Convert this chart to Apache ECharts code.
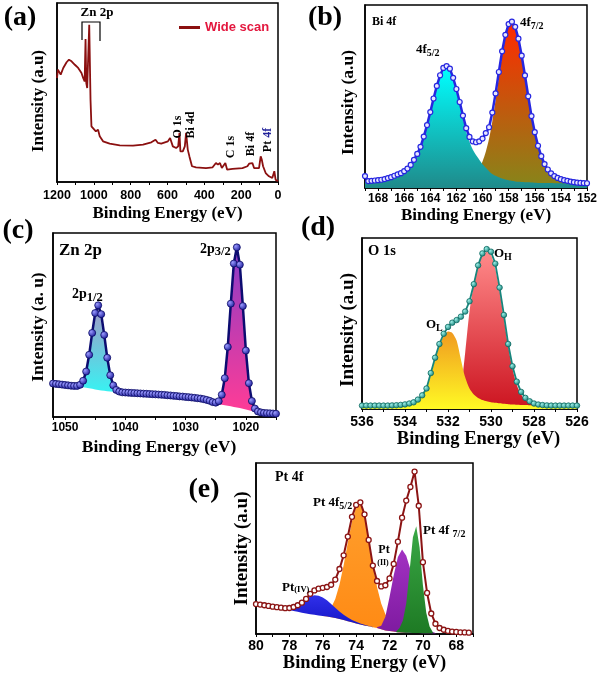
<!DOCTYPE html>
<html><head><meta charset="utf-8">
<script src="https://cdn.jsdelivr.net/npm/echarts@6/dist/echarts.min.js"></script>
<style>html,body{margin:0;padding:0;background:#fff}#c{width:600px;height:675px}</style>
</head><body><div id="c"></div>
<script>
// ---------- (a) wide scan ----------
const wideEnergy = [1200,1195,1187,1180,1166,1148,1135,1121,1103,1085,1067,1058,1050,1045,1041,1036,1031,1025,1018,1013,1004,989,977,968,950,914,859,787,733,688,665,652,634,598,586,571,553,542,535,530,517,506,499,490,481,472,467,445,391,355,337,326,315,305,286,276,247,193,166,157,148,139,130,103,94,88,81,72,67,49,31,20,13,0];
const wideIntensity = [58.1,62.8,63.1,60.0,63.7,66.9,68.3,67.4,65.5,63.7,60.9,58.1,56.2,79.9,55.3,52.5,51.6,87.9,46.0,31.1,30.2,28.3,29.2,25.5,22.7,21.4,20.5,20.3,20.9,22.2,23.6,21.8,21.4,22.7,24.6,19.9,19.0,19.9,27.4,17.1,17.1,19.9,27.4,18.1,14.3,13.4,8.8,8.2,7.8,8.2,10.6,9.7,10.6,7.8,10.6,6.9,7.3,7.8,8.8,10.2,9.1,10.6,7.8,7.8,14.3,12.5,8.8,9.1,5.0,3.2,2.2,6.0,1.3,0.4];

// ---------- (b) Bi 4f ----------
const biEnergy = [169,168.75,168.5,168.25,168,167.75,167.5,167.25,167,166.75,166.5,166.25,166,165.75,165.5,165.25,165,164.75,164.5,164.25,164,163.75,163.5,163.25,163,162.75,162.5,162.25,162,161.75,161.5,161.25,161,160.75,160.5,160.25,160,159.75,159.5,159.25,159,158.75,158.5,158.25,158,157.75,157.5,157.25,157,156.75,156.5,156.25,156,155.75,155.5,155.25,155,154.75,154.5,154.25,154,153.75,153.5,153.25,153,152.75,152.5,152.25,152];
const biEnvelope = [6.5,3.8,3.9,4.1,4.3,4.5,4.9,5.4,5.9,6.7,7.4,8.1,9.2,10.6,12.6,15.4,18.6,22.5,28.1,34.4,41.5,48.9,55.8,61.6,65.6,66.6,65.2,60.2,54.1,47.0,39.6,32.7,27.9,25.5,25.0,25.5,27.0,30.0,33.2,41.2,51.7,63.4,74.7,83.7,89.6,90.9,88.1,81.6,72.3,61.5,50.1,39.3,30.5,23.1,17.4,13.1,10.1,8.0,6.5,5.5,4.8,4.3,3.9,3.5,3.2,2.9,2.8,2.7,2.6];
const bi4f52 = [3.6,3.7,3.8,4.0,4.2,4.4,4.8,5.3,5.8,6.5,7.2,7.9,9.0,10.4,12.3,15.1,18.3,22.2,27.7,34.0,41.1,48.4,55.3,61.0,65.0,65.9,64.4,59.3,53.1,45.8,38.1,30.7,25.3,21.0,18.0,15.5,13.0,11.0,9.2,7.7,6.7,5.9,5.2,4.7,4.3,3.9,3.6,3.4,3.3,3.2,3.1,3.0,2.9,2.8,2.8,2.8,2.8,2.7,2.6,2.6,2.6,2.6,2.6,2.6,2.6,2.5,2.5,2.5,2.5];
const bi4f72 = [3.6,3.6,3.6,3.6,3.5,3.5,3.5,3.5,3.5,3.6,3.6,3.5,3.5,3.5,3.6,3.6,3.6,3.5,3.6,3.6,3.6,3.7,3.7,3.8,3.7,3.8,3.9,4.0,4.1,4.3,4.6,5.0,5.6,6.6,8.2,10.8,14.5,19.8,26.9,36.4,47.9,60.4,72.4,81.9,88.2,89.8,87.3,81.0,71.8,61.1,49.8,39.0,30.3,23.0,17.3,13.0,10.0,8.0,6.5,5.5,4.8,4.3,3.9,3.5,3.2,2.9,2.8,2.7,2.6];

// ---------- (c) Zn 2p ----------
const znEnergy = [1052,1051.5,1051,1050.5,1050,1049.5,1049,1048.5,1048,1047.5,1047,1046.5,1046,1045.5,1045,1044.5,1044,1043.5,1043,1042.5,1042,1041.5,1041,1040.5,1040,1039.5,1039,1038.5,1038,1037.5,1037,1036.5,1036,1035.5,1035,1034.5,1034,1033.5,1033,1032.5,1032,1031.5,1031,1030.5,1030,1029.5,1029,1028.5,1028,1027.5,1027,1026.5,1026,1025.5,1025,1024.5,1024,1023.5,1023,1022.5,1022,1021.5,1021,1020.5,1020,1019.5,1019,1018.5,1018,1017.5,1017,1016.5,1016,1015.5,1015];
const znEnvelope = [18.2,18.0,17.8,17.6,17.4,17.2,17.0,16.9,16.9,17.5,19.7,24.7,33.8,45.7,56.5,60.7,55.9,44.6,32.2,22.7,17.2,14.7,13.8,13.4,13.3,13.2,13.1,13.0,12.9,12.8,12.7,12.6,12.5,12.4,12.3,12.2,12.1,12.0,11.8,11.7,11.5,11.4,11.2,11.1,10.9,10.8,10.6,10.4,10.2,10.0,9.7,9.3,8.8,8.1,7.8,8.6,12.1,21.1,38.1,61.6,83.4,92.2,82.8,60.3,36.1,18.4,8.7,4.6,3.0,2.5,2.2,2.1,2.0,1.9,1.8];
const zn2p12Energy = [1048,1047.5,1047,1046.5,1046,1045.5,1045,1044.5,1044,1043.5,1043,1042.5,1042,1041.5,1041];
const zn2p12Base = [16.6,16.4,16.2,15.9,15.6,15.3,15.0,14.7,14.4,14.2,14.0,13.9,13.7,13.6,13.5];
const zn2p12Top = [16.9,17.5,19.7,24.7,33.8,45.7,56.5,60.7,55.9,44.6,32.2,22.7,17.2,14.7,13.8];
const zn2p32Energy = [1025.5,1025,1024.5,1024,1023.5,1023,1022.5,1022,1021.5,1021,1020.5,1020,1019.5,1019,1018.5,1018,1017.5];
const zn2p32Base = [8.0,7.4,7.0,6.7,6.4,6.1,5.8,5.5,5.2,4.9,4.5,4.1,3.7,3.3,2.95,2.6,2.4];
const zn2p32Top = [8.1,7.8,8.6,12.1,21.1,38.1,61.6,83.4,92.2,82.8,60.3,36.1,18.4,8.7,4.55,3.0,2.5];

// ---------- (d) O 1s ----------
const oEnergy = [536,535.8,535.6,535.4,535.2,535,534.8,534.6,534.4,534.2,534,533.8,533.6,533.4,533.2,533,532.8,532.6,532.4,532.2,532,531.8,531.6,531.4,531.2,531,530.8,530.6,530.4,530.2,530,529.8,529.6,529.4,529.2,529,528.8,528.6,528.4,528.2,528,527.8,527.6,527.4,527.2,527,526.8,526.6,526.4,526.2,526];
const oEnvelope = [2.0,2.0,2.0,2.0,2.0,2.0,2.0,2.1,2.2,2.4,2.7,3.2,3.9,5.5,8.0,12.0,21.0,30.0,38.0,44.0,48.0,50.5,52.0,54.0,57.0,63.0,73.0,84.0,91.0,93.5,92.0,85.0,71.0,55.0,38.0,25.0,16.0,10.0,6.5,4.5,3.2,2.6,2.3,2.1,2.0,2.0,2.0,2.0,2.0,2.0,2.0];
const oLattice = [2.0,2.0,2.0,2.0,2.0,2.0,2.0,2.0,2.0,2.0,2.3,2.9,3.8,5.5,8.0,12.0,20.0,29.0,37.0,42.5,45.3,44.5,40.0,29.0,18.5,12.0,8.5,6.5,5.3,4.5,4.0,3.6,3.3,3.0,2.8,2.6,2.5,2.4,2.3,2.2,2.1,2.1,2.0,2.0,2.0,2.0,2.0,2.0,2.0,2.0,2.0];
const oHydroxyl = [2.0,2.0,2.0,2.0,2.0,2.0,2.0,2.0,2.0,2.0,2.0,2.0,2.0,2.0,2.0,2.0,2.0,2.0,2.0,2.0,2.2,3.0,5.0,12.0,33.0,57.0,73.0,84.0,90.0,92.0,90.0,82.0,69.0,53.0,36.5,23.5,14.0,8.5,5.2,3.5,2.6,2.2,2.0,2.0,2.0,2.0,2.0,2.0,2.0,2.0,2.0];

// ---------- (e) Pt 4f ----------
const ptEnergy = [80,79.75,79.5,79.25,79,78.75,78.5,78.25,78,77.75,77.5,77.25,77,76.75,76.5,76.25,76,75.75,75.5,75.25,75,74.75,74.5,74.25,74,73.75,73.5,73.25,73,72.75,72.5,72.25,72,71.75,71.5,71.25,71,70.75,70.5,70.25,70,69.75,69.5,69.25,69,68.75,68.5,68.25,68,67.75,67.5,67.25];
const ptEnvelope = [17.5,17.2,16.8,16.4,16.0,15.7,15.4,15.1,15.2,15.8,16.8,18.3,20.5,23.5,25.5,26.5,27.0,27.5,28.8,31.8,38.0,46.0,57.0,68.5,75.5,77.0,70.0,55.0,40.0,31.0,27.8,28.5,32.5,41.0,54.0,68.0,78.0,86.0,95.0,75.0,42.0,24.0,12.0,6.0,3.5,2.5,1.8,1.4,1.2,1.0,0.9,0.8];
const ptIVEnergy = [78.25,78,77.75,77.5,77.25,77,76.75,76.5,76.25,76,75.75,75.5,75.25,75,74.75,74.5,74.25,74,73.75,73.5,73.25,73];
const ptIVBase = [14.6,14.0,13.5,13.0,12.5,12.0,11.6,11.2,10.8,10.5,10.2,9.8,9.4,8.8,8.2,7.5,6.8,6.2,5.6,5.0,4.5,4.0];
const ptIVTop = [14.9,15.0,15.7,17.0,18.8,20.5,21.9,22.6,22.3,21.3,19.7,17.6,15.4,13.2,11.3,9.6,8.2,7.1,6.2,5.4,4.7,4.1];
const pt52Energy = [76,75.75,75.5,75.25,75,74.75,74.5,74.25,74,73.75,73.5,73.25,73,72.75,72.5,72.25,72,71.75,71.5,71.25,71];
const pt52Base = [10.5,10.2,9.8,9.4,8.8,8.2,7.5,6.8,6.2,5.6,5.0,4.5,4.0,3.5,2.8,2.1,1.7,1.4,1.0,0.9,0.8];
const pt52Top = [11.5,12.7,15.3,20.4,28.8,40.2,53.5,65.8,74.2,75.6,70.0,54.5,40.0,27.5,17.8,11.6,7.2,4.4,2.5,1.6,1.1];
const ptIIEnergy = [72.75,72.5,72.25,72,71.75,71.5,71.25,71,70.75,70.5,70.25,70,69.75,69.5,69.25];
const ptIIBase = [3.5,2.8,2.1,1.7,1.4,1.0,0.9,0.8,0.7,0.6,0.55,0.5,0.45,0.4,0.35];
const ptIITop = [4.0,4.8,10.1,21.7,34.4,45.0,49.4,45.8,37.7,26.6,15.55,7.5,3.45,1.4,0.65];
const pt72Energy = [71.6,71.4,71.2,71,70.8,70.6,70.4,70.2,70,69.8,69.6,69.4];
const pt72Base = [1.0,1.0,0.9,0.8,0.7,0.65,0.6,0.55,0.5,0.45,0.4,0.38];
const pt72Top = [1.5,3.5,7.9,17.8,36.7,56.65,63.0,50.55,28.5,12.45,4.4,0.88];

// ---------- helpers ----------
const SERIF = '"Liberation Serif", "Times New Roman", serif';
const SANS = '"Liberation Sans", Arial, sans-serif';
const pairs = (xs, ys) => xs.map((x, i) => [x, ys[i]]);
const grad = (top, bottom) => ({type:'linear', x:0, y:0, x2:0, y2:1, colorStops:[{offset:0, color:top},{offset:1, color:bottom}]});
const radial = (inner, outer) => ({type:'radial', x:0.35, y:0.35, r:0.7, colorStops:[{offset:0, color:inner},{offset:1, color:outer}]});

function xAx(gi, min, max, interval, step, fs, margin, nameGap, nameFs, namePad) {
  return {gridIndex: gi, type:'value', min, max, interval, inverse:true,
    axisLine:{show:true, onZero:false, lineStyle:{color:'#000', width:1.5}},
    axisTick:{show:true, inside:false, length:3, lineStyle:{color:'#000', width:1}},
    splitLine:{show:false},
    axisLabel:{show:true, interval:0, margin, fontFamily:SANS, fontWeight:'bold', fontSize:fs, color:'#000',
      formatter: v => (Math.abs(Math.round(v) % step) < 1e-6 && Math.abs(v - Math.round(v)) < 1e-6 ? String(Math.round(v)) : '')},
    name:'Binding Energy (eV)', nameLocation:'middle', nameGap,
    nameTextStyle:{fontFamily:SERIF, fontWeight:'bold', fontSize:nameFs, color:'#000', padding: namePad || [0,0,0,0]}};
}
function yAx(gi, name, nameGap, nameFs, pad) {
  return {gridIndex: gi, type:'value', min:0, max:100,
    axisLine:{show:true, onZero:false, lineStyle:{color:'#000', width:1.5}},
    axisTick:{show:false}, axisLabel:{show:false}, splitLine:{show:false},
    name, nameLocation:'middle', nameGap,
    nameTextStyle:{fontFamily:SERIF, fontWeight:'bold', fontSize:nameFs, color:'#000', padding: pad || [0,0,0,0]}};
}
function fill(gi, xs, ys, top, bottom, opacity) {
  return {type:'line', xAxisIndex:gi, yAxisIndex:gi, data:pairs(xs, ys), symbol:'none', smooth:0.25, silent:true,
    lineStyle:{width:0, opacity:0}, areaStyle:{color:grad(top, bottom), opacity: opacity == null ? 1 : opacity}};
}
// filled band between a read baseline and a read component curve, mapped through the axes
function band(gi, xs, lower, upper, top, bottom) {
  return {type:'custom', xAxisIndex:gi, yAxisIndex:gi, silent:true, clip:true,
    data:[[xs[0], upper[0]]],
    renderItem:(params, api) => {
      const pts = [];
      for (let i = 0; i < xs.length; i++) pts.push(api.coord([xs[i], upper[i]]));
      for (let i = xs.length - 1; i >= 0; i--) pts.push(api.coord([xs[i], lower[i]]));
      return {type:'polygon', shape:{points:pts},
        style:{fill:new echarts.graphic.LinearGradient(0, 0, 0, 1, [{offset:0, color:top},{offset:1, color:bottom}]), stroke:null}};
    }};
}
function env(gi, xs, ys, lineColor, lw, symSize, symColor, symBorder, bw) {
  return {type:'line', xAxisIndex:gi, yAxisIndex:gi, data:pairs(xs, ys), symbol:'circle', symbolSize:symSize, silent:true,
    lineStyle:{color:lineColor, width:lw}, itemStyle:{color:symColor, borderColor:symBorder, borderWidth:bw}};
}
function T(x, y, text, fs, extra, rot) {
  return {type:'text', x, y, z:100, rotation: rot || 0, silent:true,
    style:Object.assign({text, fontFamily:SERIF, fontWeight:'bold', fontSize:fs, fill:'#000', align:'left', verticalAlign:'middle'}, extra || {})};
}
function TS(x, y, main, sub, fs, sfs, drop) {
  return {type:'text', x, y, z:100, silent:true,
    style:{text:'{m|' + main + '}{s|' + sub + '}', align:'left', verticalAlign:'middle',
      rich:{m:{fontFamily:SERIF, fontWeight:'bold', fontSize:fs, fill:'#000', verticalAlign:'top'},
            s:{fontFamily:SERIF, fontWeight:'bold', fontSize:sfs, fill:'#000', verticalAlign:'top', padding:[drop,0,0,0]}}}};
}

const gridBase = {show:true, borderColor:'#000', borderWidth:1.5, backgroundColor:'transparent'};

const option = {
  animation:false,
  backgroundColor:'#fff',
  grid:[
    Object.assign({left:57, top:3, width:221, height:179}, gridBase),
    Object.assign({left:365, top:5, width:223, height:183}, gridBase),
    Object.assign({left:53, top:233, width:223, height:184}, gridBase),
    Object.assign({left:362, top:238, width:215, height:171}, gridBase),
    Object.assign({left:256, top:463, width:217, height:171}, gridBase)
  ],
  xAxis:[
    xAx(0, 0, 1200, 100, 200, 12.5, 7, 23, 17),
    xAx(1, 152, 169, 1, 2, 12, 5, 19, 17),
    xAx(2, 1015, 1052, 5, 10, 12, 5, 21, 17.5, [0,11,0,0]),
    xAx(3, 526, 536, 1, 2, 14, 6, 18, 18.5, [0,0,0,18]),
    xAx(4, 67, 80, 1, 2, 14, 5, 19, 18.5)
  ],
  yAxis:[
    yAx(0, 'Intensity (a.u)', 10, 17, [0,17,0,0]),
    yAx(1, 'Intensity (a.u)', 8, 17.5, [0,12,0,0]),
    yAx(2, 'Intensity (a. u)', 6, 17.5, [0,4,0,0]),
    yAx(3, 'Intensity (a.u)', 4.5, 19, [0,13,0,0]),
    yAx(4, 'Intensity (a.u)', 4.5, 19)
  ],
  legend:{data:['Wide scan'], left:174, top:16, icon:'rect', itemWidth:21, itemHeight:3, itemGap:4,
    textStyle:{color:'#e3173e', fontFamily:SANS, fontWeight:'bold', fontSize:13}},
  series:[
    // (a)
    {name:'Wide scan', type:'line', xAxisIndex:0, yAxisIndex:0, data:pairs(wideEnergy, wideIntensity), symbol:'none', silent:true,
      lineStyle:{color:'#8b1010', width:1.8}, itemStyle:{color:'#8b1010'}},
    // (b)
    fill(1, biEnergy, bi4f72, '#ff2a00', '#86861a'),
    fill(1, biEnergy, bi4f52, '#00ffff', '#1f8a8a'),
    env(1, biEnergy, biEnvelope, '#2626e0', 2.5, 5, '#e6e6ff', '#2626e0', 1.2),
    // (c)
    band(2, zn2p12Energy, zn2p12Base, zn2p12Top, '#a598c6', '#38f2f2'),
    band(2, zn2p32Energy, zn2p32Base, zn2p32Top, '#8a3cc8', '#ff3c96'),
    env(2, znEnergy, znEnvelope, '#0c0c70', 2.5, 7, radial('#9a9aff', '#1a1a98'), '#0c0c66', 0.8),
    // (d)
    fill(3, oEnergy, oHydroxyl, '#ff8a8a', '#cc1420'),
    fill(3, oEnergy, oLattice, '#f09a20', '#fffa24'),
    env(3, oEnergy, oEnvelope, '#17857c', 1.8, 5.5, radial('#9ef0e8', '#148078'), '#0f6a62', 0.8),
    // (e)
    band(4, pt52Energy, pt52Base, pt52Top, '#ff9e2c', '#ff8a14'),
    band(4, ptIVEnergy, ptIVBase, ptIVTop, '#3030ea', '#1414c4'),
    band(4, ptIIEnergy, ptIIBase, ptIITop, '#a232c2', '#7e1aa0'),
    band(4, pt72Energy, pt72Base, pt72Top, '#3aa846', '#1e7a24'),
    env(4, ptEnergy, ptEnvelope, '#8b1414', 2, 5, '#ffffff', '#8b1414', 1.3)
  ],
  graphic:[
    T(20, 18, '(a)', 28, {align:'center'}),
    T(325, 18, '(b)', 28, {align:'center'}),
    T(18, 231, '(c)', 28, {align:'center'}),
    T(318, 228, '(d)', 28, {align:'center'}),
    T(204, 490, '(e)', 28, {align:'center'}),
    T(97, 13, 'Zn 2p', 13, {align:'center'}),
    {type:'polyline', z:100, silent:true, shape:{points:[[82,40],[82,22],[100,22],[100,41]]}, style:{stroke:'#000', lineWidth:1.2, fill:null}},
    T(178, 127, 'O 1s', 12, {align:'center'}, Math.PI/2),
    T(191, 125, 'Bi 4d', 12, {align:'center'}, Math.PI/2),
    T(231, 147, 'C 1s', 12, {align:'center'}, Math.PI/2),
    T(251, 144, 'Bi 4f', 12, {align:'center'}, Math.PI/2),
    {type:'text', x:268, y:140, z:100, rotation:Math.PI/2, silent:true,
      style:{text:'{a|Pt }{b|4f}', align:'center', verticalAlign:'middle',
        rich:{a:{fontFamily:SERIF, fontWeight:'bold', fontSize:12, fill:'#000'}, b:{fontFamily:SERIF, fontWeight:'bold', fontSize:12, fill:'#22229a'}}}},
    T(372, 22, 'Bi 4f', 12),
    TS(416, 51, '4f', '5/2', 13, 10, 5),
    TS(520, 24, '4f', '7/2', 13, 10, 5),
    T(59, 251, 'Zn 2p', 17),
    TS(72, 296, '2p', '1/2', 14, 12.5, 4),
    TS(200, 250, '2p', '3/2', 14, 12.5, 3),
    T(368, 251, 'O 1s', 14.5),
    TS(494, 255, 'O', 'H', 13, 10, 5),
    TS(426, 326, 'O', 'L', 13, 10, 5),
    T(275, 477, 'Pt 4f', 14),
    TS(313, 504, 'Pt 4f', '5/2', 13, 10, 5),
    T(384, 550, 'Pt', 12, {align:'center'}),
    T(383, 563, '(II)', 8, {align:'center'}),
    TS(423, 532, 'Pt 4f ', '7/2', 13, 10, 5),
    TS(282, 588, 'Pt', '(IV)', 13, 8.5, 4)
  ]
};
const chart = echarts.init(document.getElementById('c'), null, {renderer:'canvas'});
chart.setOption(option);
</script>
</body></html>
